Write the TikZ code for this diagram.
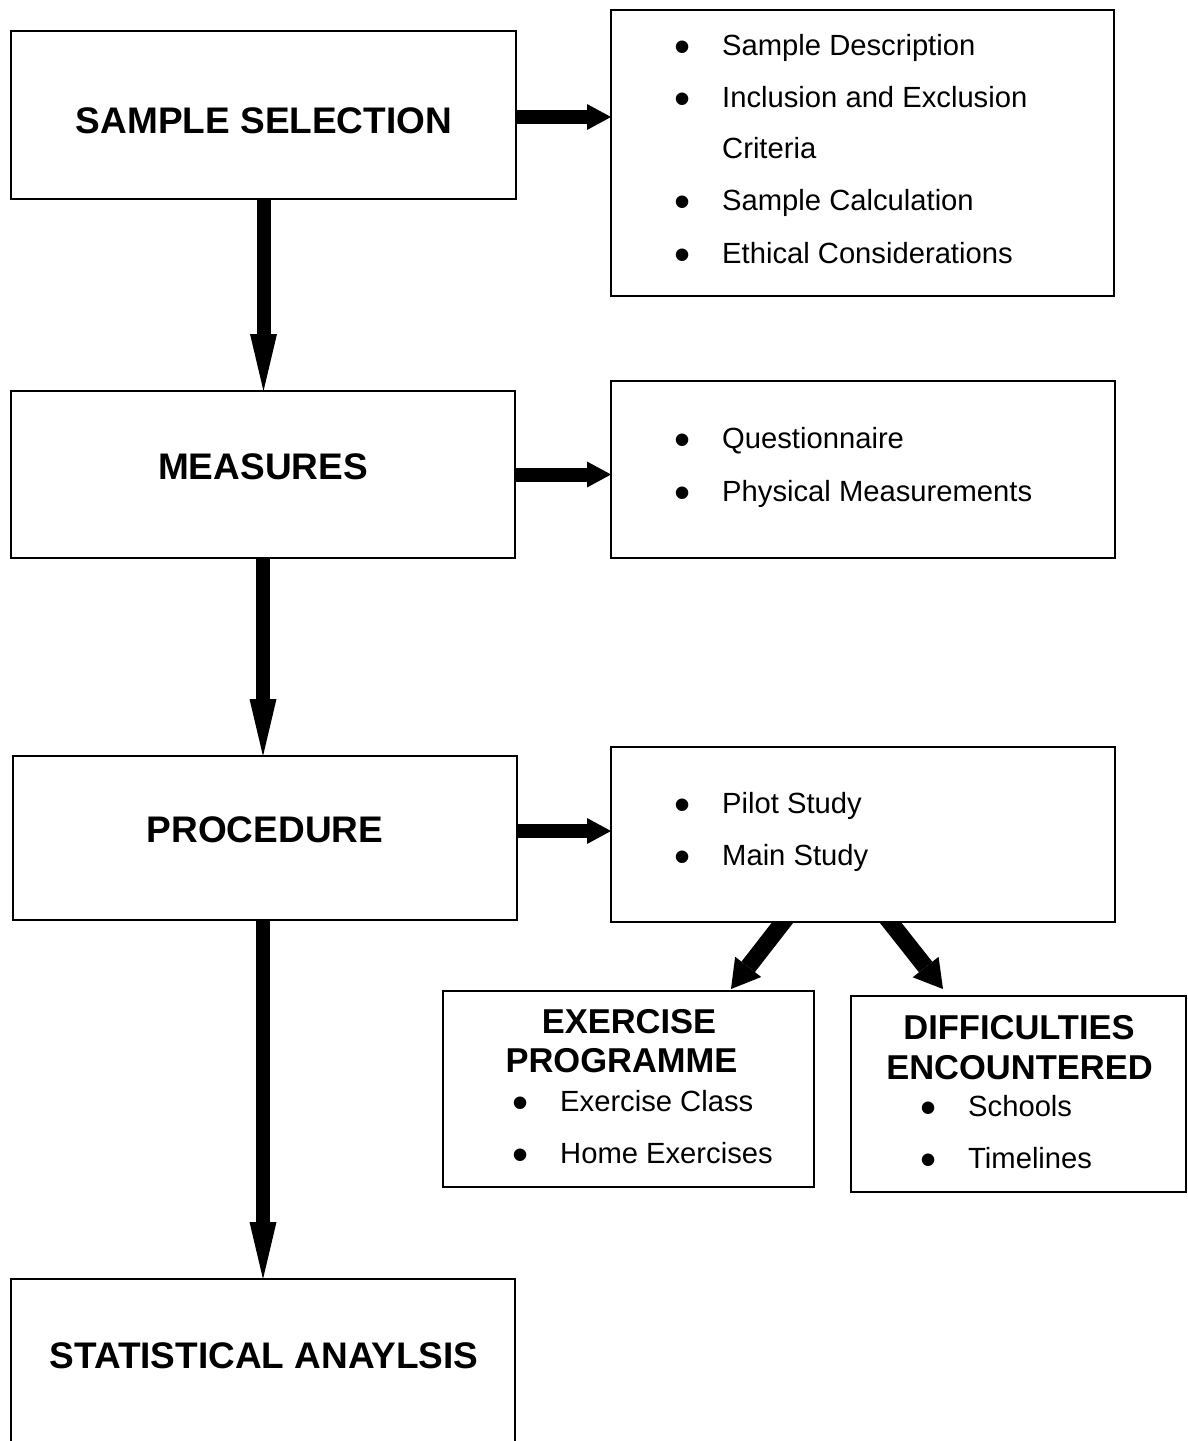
\documentclass[tikz,border=0pt]{standalone}
\usepackage{fontspec}
\setmainfont{Liberation Sans}
\usetikzlibrary{arrows.meta,backgrounds}
\newcommand\bul{\makebox[48pt][l]{\raisebox{-7pt}{\fontsize{46}{46}\selectfont\textbullet}}}
\begin{document}
\begin{tikzpicture}[x=1pt,y=-1pt,
  box/.style={draw,fill=white,line width=1.5pt,inner sep=0pt,outer sep=0pt,rectangle},
  ttl/.style={font=\fontsize{37}{44}\selectfont\bfseries,anchor=base,inner sep=0pt},
  sttl/.style={font=\fontsize{34.5}{40}\selectfont\bfseries,anchor=base,inner sep=0pt},
  itm/.style={font=\fontsize{29.2}{34}\selectfont,anchor=base west,inner sep=0pt},
  bigarrow/.style={line width=14pt,-{Triangle[length=57pt,width=27pt,line width=0pt]}},
  sidearrow/.style={line width=14pt,-{Triangle[length=24pt,width=26pt,line width=0pt]}},
  diagarrow/.style={line width=17pt,-{Triangle[length=28pt,width=33pt,line width=0pt]}}]
\clip (0,0) rectangle (1187,1441);
% boxes
\node[box,minimum width=505pt,minimum height=168pt] (b1) at (263.5,115) {};
\node[box,minimum width=503pt,minimum height=286pt] (r1) at (862.5,153) {};
\node[box,minimum width=504pt,minimum height=167pt] (b2) at (263,474.5) {};
\node[box,minimum width=504pt,minimum height=177pt] (r2) at (863,469.5) {};
\node[box,minimum width=504pt,minimum height=164pt] (b3) at (265,838) {};
\node[box,minimum width=504pt,minimum height=175pt] (r3) at (863,834.5) {};
\node[box,minimum width=371pt,minimum height=196pt] (ex) at (628.5,1089) {};
\node[box,minimum width=335pt,minimum height=196pt] (df) at (1018.5,1094) {};
\node[box,minimum width=504pt,minimum height=191pt] (b4) at (263,1374.5) {};
% titles
\node[ttl] (t1) at (264,133) {SAMPLE SELECTION};
\node[ttl] (t2) at (263,479) {MEASURES};
\node[ttl] (t3) at (265,842) {PROCEDURE};
\node[ttl] (t4) at (264,1368) {STATISTICAL ANAYLSIS};
\node[sttl] (ex1) at (629,1033) {EXERCISE};
\node[sttl] (ex2) at (621.5,1072) {PROGRAMME};
\node[sttl] (df1) at (1019,1039) {DIFFICULTIES};
\node[sttl] (df2) at (1019.5,1079) {ENCOUNTERED};
% items
\node[itm] (i11) at (674,55) {\bul Sample Description};
\node[itm] (i12) at (674,107) {\bul Inclusion and Exclusion};
\node[itm] (i13) at (722,158) {Criteria};
\node[itm] (i14) at (674,210) {\bul Sample Calculation};
\node[itm] (i15) at (674,263) {\bul Ethical Considerations};
\node[itm] (i21) at (674,448) {\bul Questionnaire};
\node[itm] (i22) at (674,501) {\bul Physical Measurements};
\node[itm] (i31) at (674,813) {\bul Pilot Study};
\node[itm] (i32) at (674,865) {\bul Main Study};
\node[itm] (i41) at (512,1111) {\bul Exercise Class};
\node[itm] (i42) at (512,1163) {\bul Home Exercises};
\node[itm] (i51) at (920,1116) {\bul Schools};
\node[itm] (i52) at (920,1168) {\bul Timelines};
% arrows
\begin{pgfonlayer}{background}
\coordinate (h1) at ([yshift=-2pt]b1.east);
\coordinate (h2) at (b2.east);
\coordinate (h3) at ([yshift=7pt]b3.east);
\draw[sidearrow] (h1) -- (h1 -| r1.west);
\draw[sidearrow] (h2) -- (h2 -| r2.west);
\draw[sidearrow] (h3) -- (h3 -| r3.west);
\draw[bigarrow] (b1.south) -- (b1.south |- b2.north);
\draw[bigarrow] (b2.south) -- (b2.south |- b3.north);
\coordinate (v3) at ([xshift=-2pt]b3.south);
\draw[bigarrow] (v3) -- (v3 |- b4.north);
\coordinate (d1s) at ([xshift=-72.6pt,yshift=9.5pt]r3.south);
\coordinate (d1e) at ([xshift=102.5pt,yshift=2pt]ex.north);
\coordinate (d2s) at ([xshift=19.6pt,yshift=9.4pt]r3.south);
\coordinate (d2e) at ([xshift=-75.5pt,yshift=7pt]df.north);
\draw[diagarrow] (d1s) -- (d1e);
\draw[diagarrow] (d2s) -- (d2e);
\end{pgfonlayer}
\end{tikzpicture}
\end{document}
